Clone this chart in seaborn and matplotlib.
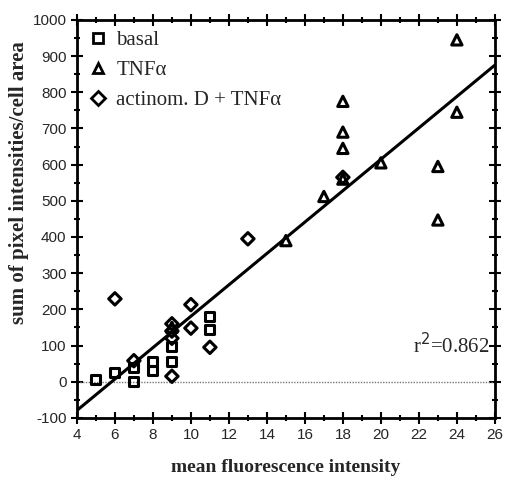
import pandas as pd
import matplotlib.pyplot as plt
import numpy as np
import seaborn as sns
import matplotlib.ticker as ticker
from matplotlib.lines import Line2D

# values
basal_x = [5, 6, 7, 7, 8, 8, 9, 9, 11, 11]
basal_y = [5, 25, 0, 40, 30, 55, 56, 98, 144, 180]

tnf_x = [9, 15, 17, 18, 18, 18, 18, 20, 23, 23, 24, 24]
tnf_y = [150, 390, 512, 560, 645, 690, 775, 605, 447, 595, 745, 945]

actd_x = [6, 7, 9, 9, 9, 9, 10, 10, 11, 13, 18]
actd_y = [229, 58, 15, 120, 140, 160, 148, 213, 95, 395, 565]

r2_label = "r$^2$=0.862"

df = pd.concat([
    pd.DataFrame({'mfi': basal_x, 'area': basal_y, 'group': 'basal'}),
    pd.DataFrame({'mfi': tnf_x, 'area': tnf_y, 'group': 'TNFα'}),
    pd.DataFrame({'mfi': actd_x, 'area': actd_y, 'group': 'actinom. D + TNFα'}),
], ignore_index=True)

markers = {'basal': 's', 'TNFα': '^', 'actinom. D + TNFα': 'D'}
sizes = {'basal': 42, 'TNFα': 55, 'actinom. D + TNFα': 40}

sns.set_style('ticks')
plt.rcParams['font.family'] = ['Liberation Serif', 'DejaVu Serif']
plt.rcParams['axes.unicode_minus'] = False

fig = plt.figure(figsize=(5.06, 4.87), dpi=100)
ax = fig.add_axes([0.152, 0.142, 0.826, 0.817])

ax.set_xlim(4, 26)
ax.set_ylim(-100, 1000)

# zero reference line
ax.axhline(0, color='#777777', lw=1.0, ls=(0, (1, 1)), zorder=1)

# regression line over the full x range
sns.regplot(data=df, x='mfi', y='area', scatter=False, ci=None, truncate=False,
            color='black', line_kws={'lw': 2.2}, ax=ax)

for grp, sub in df.groupby('group', sort=False):
    sns.scatterplot(data=sub, x='mfi', y='area', marker=markers[grp], s=sizes[grp],
                    fc='none', ec='black', linewidth=2.2, ax=ax, zorder=3)

ax.set_xlim(4, 26)
ax.set_ylim(-100, 1000)

ax.xaxis.set_major_locator(ticker.MultipleLocator(2))
ax.xaxis.set_minor_locator(ticker.MultipleLocator(1))
ax.yaxis.set_major_locator(ticker.MultipleLocator(100))
ax.yaxis.set_minor_locator(ticker.MultipleLocator(50))
ax.tick_params(which='both', direction='inout', top=True, right=True,
               labeltop=False, labelright=False, width=1.5, color='black')
ax.tick_params(which='major', length=8)
ax.tick_params(which='minor', length=4)
for lab in ax.get_xticklabels() + ax.get_yticklabels():
    lab.set_family('Liberation Sans')
    lab.set_fontsize(11)

for sp in ax.spines.values():
    sp.set_linewidth(2)
    sp.set_color('black')

ax.set_xlabel('mean fluorescence intensity', fontsize=14, fontweight='bold', labelpad=12)
ax.set_ylabel('sum of pixel intensities/cell area', fontsize=15, fontweight='bold', labelpad=1)
ax.yaxis.set_label_coords(-0.115, 0.59)

ax.text(25.7, 65, r2_label, ha='right', va='bottom', fontsize=15)

handles = [Line2D([], [], ls='none', marker=markers[g], mfc='none', mec='black',
                  mew=2, ms=7) for g in markers]
ax.legend(handles, list(markers), loc='upper left', frameon=False, fontsize=15,
          handletextpad=0.4, labelspacing=0.5, borderaxespad=0.2, handlelength=1,
          borderpad=0.3)

fig.savefig('out.png', dpi=100)
